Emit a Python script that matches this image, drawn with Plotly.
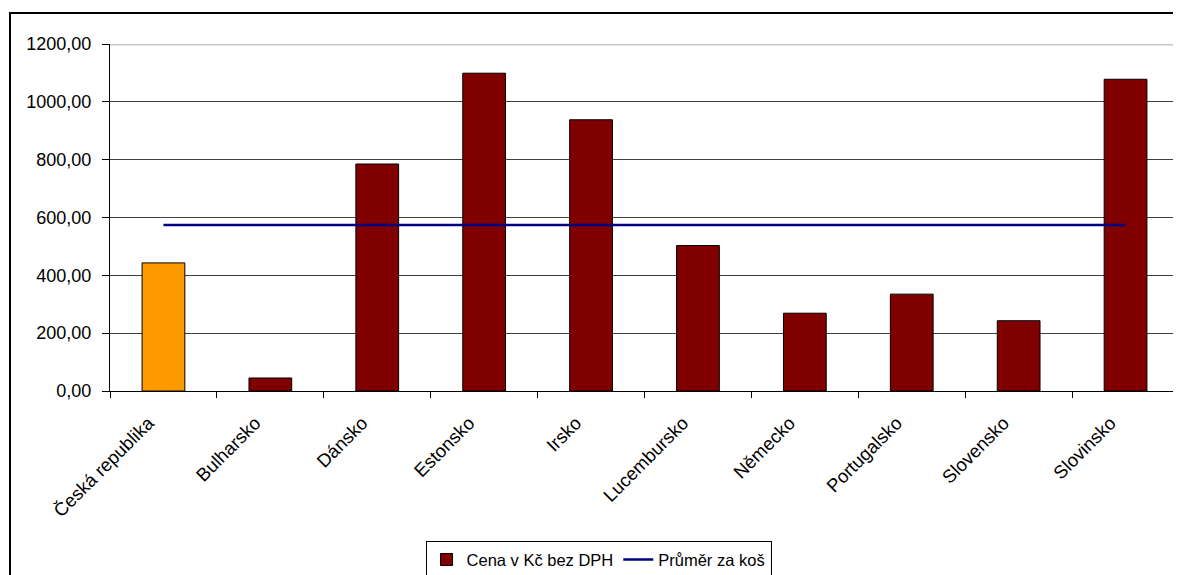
import plotly.graph_objects as go

categories = ["Česká republika", "Bulharsko", "Dánsko", "Estonsko", "Irsko",
              "Lucembursko", "Německo", "Portugalsko", "Slovensko", "Slovinsko"]
prices = [443, 45, 785, 1099, 938, 503, 269, 335, 243, 1078]
average_value = 574
highlight = "Česká republika"
y_ticks = [0, 200, 400, 600, 800, 1000, 1200]

FONT = "Liberation Sans, Arial, sans-serif"
MAROON = "#800000"
ORANGE = "#FF9900"
NAVY = "#000080"

hl_x = [c for c in categories if c == highlight]
hl_y = [v for c, v in zip(categories, prices) if c == highlight]
rest_x = [c for c in categories if c != highlight]
rest_y = [v for c, v in zip(categories, prices) if c != highlight]

fig = go.Figure()
fig.add_trace(go.Bar(x=rest_x, y=rest_y, name="Cena v Kč bez DPH",
                     marker=dict(color=MAROON, line=dict(color="black", width=1)),
                     width=0.4))
fig.add_trace(go.Bar(x=hl_x, y=hl_y, name="Cena v Kč bez DPH", showlegend=False,
                     marker=dict(color=ORANGE, line=dict(color="black", width=1)),
                     width=0.4))
fig.add_trace(go.Scatter(x=categories, y=[average_value] * len(categories),
                         mode="lines", name="Průměr za koš",
                         line=dict(color=NAVY, width=2.5)))

# page body has an 8px margin; size the figure so it fits the 1181x575 window
W, H = 1173, 567
ML, MR, MT, MB = 102, 2, 36, 184
PW = W - ML - MR
PH = H - MT - MB

fig.update_layout(
    width=W, height=H,
    margin=dict(l=ML, r=MR, t=MT, b=MB, pad=0, autoexpand=False),
    paper_bgcolor="white", plot_bgcolor="white",
    barmode="overlay",
    separators=", ",
    font=dict(family=FONT, size=18, color="black"),
    showlegend=True,
    legend=dict(orientation="h", x=0.457, xanchor="center", y=-0.433, yanchor="top",
                bordercolor="black", borderwidth=1, bgcolor="white",
                font=dict(family=FONT, size=16.5, color="black"),
                traceorder="normal", itemwidth=30),
    xaxis=dict(type="category", categoryorder="array", categoryarray=categories,
               tickangle=-45, showline=True, linecolor="black", linewidth=1,
               ticks="outside", tickson="boundaries", ticklen=6, tickcolor="black",
               ticklabelstandoff=13, ticklabelshift=-15, automargin=False,
               showgrid=False, zeroline=False, range=[-0.5, len(categories) - 0.5],
               tickfont=dict(family=FONT, size=18.5, color="black")),
    yaxis=dict(range=[0, 1200], tickvals=y_ticks, tickformat=".2f",
               showline=True, linecolor="black", linewidth=1, automargin=False,
               ticks="outside", ticklen=7, tickcolor="black", ticklabelstandoff=7,
               showgrid=True, gridcolor="#404040", gridwidth=1,
               zeroline=False, tickfont=dict(family=FONT, size=18, color="black")),
)

# light grey top border of plot area (at 1200)
fig.add_shape(type="line", xref="paper", yref="y", x0=0, x1=1, y0=1200, y1=1200,
              line=dict(color="#c8c8c8", width=3), layer="above")
# outer chart frame (extends beyond visible page on right and bottom)
fig.add_shape(type="rect", xref="paper", yref="paper",
              x0=(2 - ML) / PW, x1=1.2,
              y0=-0.8, y1=(H - MB - 5) / PH,
              line=dict(color="black", width=2), fillcolor="rgba(0,0,0,0)", layer="above")

fig.write_html("out.html", config={"displayModeBar": False},
               post_script="document.documentElement.style.overflow='hidden';"
                           "document.body.style.overflow='hidden';")
